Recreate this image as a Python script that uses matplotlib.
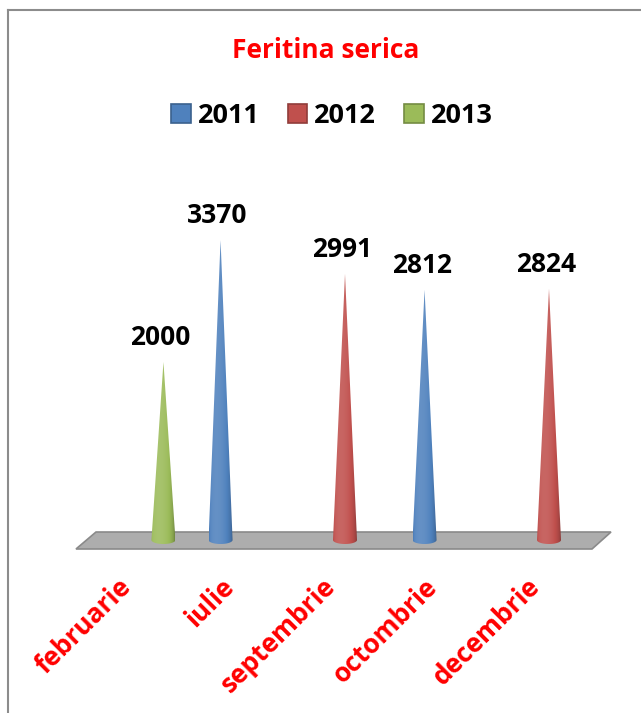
import numpy as np
import matplotlib
matplotlib.use("Agg")
import matplotlib.pyplot as plt
from matplotlib.patches import Polygon, Patch
from matplotlib.lines import Line2D
import matplotlib.colors as mcolors

# ---------------- data ----------------
months = ["februarie", "iulie", "septembrie", "octombrie", "decembrie"]
years = ["2011", "2012", "2013"]
values = [2000, 3370, 2991, 2812, 2824]
series_of_point = ["2013", "2011", "2012", "2011", "2012"]
series_colors = ["#4F81BD", "#C0504D", "#9BBB59"]
title = "Feritina serica"

FONT = ["Open Sans", "DejaVu Sans"]
plt.rcParams["font.family"] = FONT

# ---------------- layout (pixels) ----------------
W, H = 641, 713
fig = plt.figure(figsize=(W / 100, H / 100), dpi=100)
ax_l, ax_t, ax_r, ax_b = 60, 150, 620, 600
ax = fig.add_axes([ax_l / W, 1 - ax_b / H, (ax_r - ax_l) / W, (ax_b - ax_t) / H])

cat0_px, cat_dx_px = 141, 102          # category centre pixel, spacing
base_px, px_per_unit = 540, 0.089      # value 0 pixel row, pixels per unit


def px2x(p):
    return (p - cat0_px) / cat_dx_px


def px2y(p):
    return (base_px - p) / px_per_unit


# floor (3D plane)
floor = Polygon([(px2x(96), px2y(532)), (px2x(611), px2y(532)),
                 (px2x(592), px2y(549)), (px2x(76), px2y(549))],
                closed=True, facecolor="#adadad", edgecolor="#8a8a8a",
                lw=1.2, zorder=1)
ax.add_patch(floor)

# cones
slot_offset = {"2011": -0.22, "2012": 0.0, "2013": 0.22}
r = 12 / cat_dx_px
e = 4 / px_per_unit

u = np.linspace(-1, 1, 120)
fshade = 0.80 + 0.30 * np.sqrt(1 - u ** 2) - 0.12 * u


def gradient(color):
    c = np.array(mcolors.to_rgb(color))
    rows = []
    for f in fshade:
        if f >= 1:
            rows.append(c + (1 - c) * min(f - 1, 1))
        else:
            rows.append(c * f)
    return np.array(rows)[None, :, :]


ts = np.linspace(np.pi, 2 * np.pi, 60)
for i, (v, s) in enumerate(zip(values, series_of_point)):
    xc = i + slot_offset[s]
    col = series_colors[years.index(s)]
    outline = [(xc, v)] + [(xc + r * np.cos(t), e * np.sin(t)) for t in ts]
    clip = Polygon(outline, closed=True, facecolor="none", edgecolor="none",
                   transform=ax.transData)
    ax.add_patch(clip)
    im = ax.imshow(gradient(col), extent=(xc - r, xc + r, -e, v),
                   aspect="auto", interpolation="bilinear", zorder=3)
    im.set_clip_path(clip)
    ax.text(xc - 3 / cat_dx_px, v + 17 / px_per_unit, f"{v}", ha="center",
            va="baseline", fontsize=19, fontweight="bold", color="black",
            zorder=5)

ax.set_xlim(px2x(ax_l), px2x(ax_r))
ax.set_ylim(px2y(ax_b), px2y(ax_t))
ax.axis("off")

# category labels
for i, m in enumerate(months):
    ax.text(i - 4 / cat_dx_px, px2y(573), m, rotation=45, ha="right", va="top",
            fontsize=19, fontweight="bold", color="red")

# title
fig.text(326 / W, 1 - 58 / H, title, ha="center", va="baseline",
         fontsize=19, fontweight="bold", color="red")

# legend
handles = [Patch(facecolor=c, edgecolor=mcolors.to_hex(np.array(mcolors.to_rgb(c)) * 0.75),
                 lw=1.2, label=y) for c, y in zip(series_colors, years)]
leg = fig.legend(handles=handles, ncol=3, loc="center",
                 bbox_to_anchor=(332 / W, 1 - 116 / H), frameon=False,
                 prop={"family": FONT, "weight": "bold", "size": 19.5},
                 handlelength=0.72, handleheight=0.72, handletextpad=0.25,
                 columnspacing=1.05, borderaxespad=0)

# chart frame (top and left edges visible)
fig.add_artist(Line2D([8 / W, 1], [1 - 10 / H, 1 - 10 / H], color="#8c8c8c",
                      lw=1.5, transform=fig.transFigure))
fig.add_artist(Line2D([8 / W, 8 / W], [1 - 10 / H, 0], color="#8c8c8c",
                      lw=1.5, transform=fig.transFigure))

fig.savefig("out.png", dpi=100)
